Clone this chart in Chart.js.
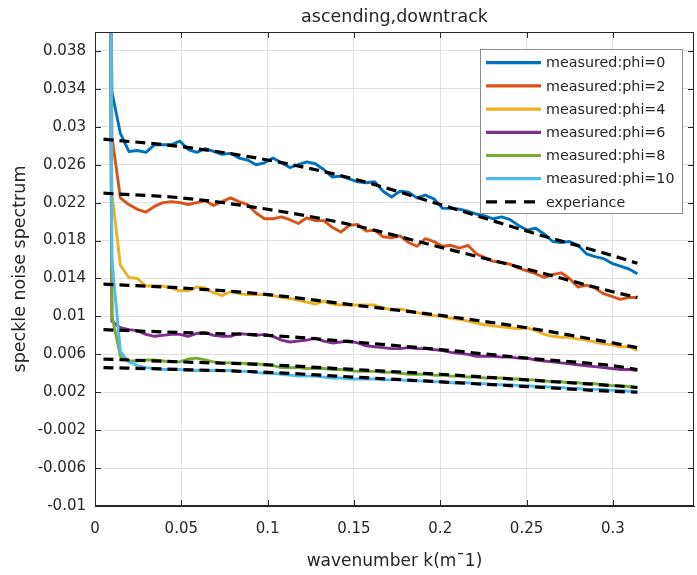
<!DOCTYPE html>
<html>
<head>
<meta charset="utf-8">
<script src="https://cdn.jsdelivr.net/npm/chart.js@4.4.0/dist/chart.umd.min.js"></script>
<style>body{margin:0;background:#fff}</style>
</head>
<body>
<canvas id="c" width="697" height="575"></canvas>
<script>
// wavenumber samples (m^-1)
const kx = [0.0049, 0.0098, 0.0147, 0.0196, 0.0245, 0.0295, 0.0344, 0.0393, 0.0442, 0.0491,
  0.0540, 0.0589, 0.0638, 0.0687, 0.0736, 0.0785, 0.0834, 0.0884, 0.0933, 0.0982,
  0.1031, 0.1080, 0.1129, 0.1178, 0.1227, 0.1276, 0.1325, 0.1374, 0.1424, 0.1473,
  0.1522, 0.1571, 0.1620, 0.1669, 0.1718, 0.1767, 0.1816, 0.1865, 0.1914, 0.1963,
  0.2013, 0.2062, 0.2111, 0.2160, 0.2209, 0.2258, 0.2307, 0.2356, 0.2405, 0.2454,
  0.2503, 0.2553, 0.2602, 0.2651, 0.2700, 0.2749, 0.2798, 0.2847, 0.2896, 0.2945,
  0.2994, 0.3043, 0.3093, 0.3142];

const phi0 = [0.12, 0.0337, 0.0293, 0.0274, 0.0275, 0.0273, 0.0281, 0.0281, 0.0281, 0.0285,
  0.0276, 0.0273, 0.0277, 0.0274, 0.0271, 0.0272, 0.0267, 0.0265, 0.0260, 0.0262,
  0.0267, 0.0262, 0.0257, 0.0260, 0.0263, 0.0261, 0.0255, 0.0247, 0.0248, 0.0245,
  0.0242, 0.0241, 0.0242, 0.0232, 0.0226, 0.0232, 0.0231, 0.0225, 0.0228, 0.0224,
  0.0214, 0.0214, 0.0213, 0.0211, 0.0208, 0.0206, 0.0203, 0.0205, 0.0202, 0.0196,
  0.0191, 0.0193, 0.0187, 0.0179, 0.0178, 0.0179, 0.0175, 0.0166, 0.0163, 0.0161,
  0.0156, 0.0153, 0.0150, 0.0145];
const phi2 = [0.15, 0.029, 0.0225, 0.0218, 0.0213, 0.0210, 0.0216, 0.0220, 0.0221, 0.0220,
  0.0218, 0.0220, 0.0222, 0.0217, 0.0221, 0.0225, 0.0221, 0.0218, 0.0209, 0.0203,
  0.0203, 0.0205, 0.0202, 0.0198, 0.0204, 0.0201, 0.0201, 0.0194, 0.0189, 0.0196,
  0.0197, 0.0190, 0.0191, 0.0184, 0.0183, 0.0185, 0.0178, 0.0174, 0.0182, 0.0179,
  0.0174, 0.0175, 0.0172, 0.0175, 0.0166, 0.0162, 0.0158, 0.0157, 0.0155, 0.0151,
  0.0148, 0.0145, 0.0141, 0.0144, 0.0146, 0.0140, 0.0131, 0.0133, 0.0130, 0.0124,
  0.0121, 0.0118, 0.0120, 0.0120];
const phi4 = [0.2, 0.023, 0.0154, 0.0141, 0.0140, 0.0132, 0.0132, 0.0132, 0.0130, 0.0127,
  0.0127, 0.0131, 0.0130, 0.0125, 0.0122, 0.0126, 0.0124, 0.0123, 0.0123, 0.0123,
  0.0122, 0.0120, 0.0119, 0.0117, 0.0115, 0.0113, 0.0116, 0.0113, 0.0112, 0.0112,
  0.0112, 0.0112, 0.0112, 0.0109, 0.0107, 0.0108, 0.0106, 0.0104, 0.0102, 0.0101,
  0.0100, 0.0098, 0.0097, 0.0095, 0.0093, 0.0091, 0.0090, 0.0089, 0.0088, 0.0087,
  0.0088, 0.0085, 0.0081, 0.0079, 0.0078, 0.0078, 0.0076, 0.0075, 0.0073, 0.0071,
  0.0070, 0.0068, 0.0068, 0.0064];
const phi6 = [0.2, 0.0095, 0.0088, 0.0086, 0.0085, 0.0081, 0.0079, 0.0080, 0.0081, 0.0081,
  0.0079, 0.0082, 0.0083, 0.0080, 0.0079, 0.0079, 0.0082, 0.0081, 0.0080, 0.0081,
  0.0079, 0.0075, 0.0073, 0.0074, 0.0075, 0.0077, 0.0074, 0.0072, 0.0073, 0.0074,
  0.0072, 0.0069, 0.0068, 0.0067, 0.0066, 0.0066, 0.0067, 0.0066, 0.0066, 0.0065,
  0.0064, 0.0062, 0.0061, 0.0060, 0.0058, 0.0058, 0.0058, 0.0057, 0.0057, 0.0056,
  0.0056, 0.0054, 0.0053, 0.0052, 0.0051, 0.0050, 0.0049, 0.0048, 0.0047, 0.0046,
  0.0045, 0.0044, 0.0044, 0.0043];
const phi8 = [0.2, 0.0101, 0.0058, 0.0053, 0.0053, 0.0054, 0.0054, 0.0053, 0.0052, 0.0052,
  0.0055, 0.0056, 0.0054, 0.0052, 0.0051, 0.0051, 0.0051, 0.0050, 0.0050, 0.0049,
  0.0048, 0.0046, 0.0046, 0.0046, 0.0045, 0.0045, 0.0045, 0.0044, 0.0044, 0.0043,
  0.0042, 0.0042, 0.0042, 0.0041, 0.0041, 0.0040, 0.0039, 0.0039, 0.0039, 0.0038,
  0.0038, 0.0037, 0.0037, 0.0036, 0.0036, 0.0035, 0.0035, 0.0035, 0.0034, 0.0034,
  0.0033, 0.0033, 0.0032, 0.0031, 0.0031, 0.0030, 0.0030, 0.0029, 0.0029, 0.0028,
  0.0027, 0.0027, 0.0026, 0.0025];
const phi10 = [0.25, 0.016, 0.0063, 0.0052, 0.0048, 0.0046, 0.0045, 0.0044, 0.0044, 0.0044,
  0.0043, 0.0043, 0.0043, 0.0043, 0.0043, 0.0043, 0.0042, 0.0042, 0.0041, 0.0040,
  0.0040, 0.0039, 0.0038, 0.0037, 0.0037, 0.0037, 0.0036, 0.0035, 0.0035, 0.0034,
  0.0034, 0.0034, 0.0034, 0.0033, 0.0033, 0.0033, 0.0032, 0.0032, 0.0032, 0.0031,
  0.0031, 0.0030, 0.0030, 0.0030, 0.0029, 0.0029, 0.0028, 0.0028, 0.0028, 0.0027,
  0.0027, 0.0026, 0.0026, 0.0025, 0.0025, 0.0024, 0.0024, 0.0023, 0.0023, 0.0023,
  0.0022, 0.0022, 0.0021, 0.0021];

// "experiance" curves, read at a few wavenumbers
const fitK = [0.0049, 0.05, 0.1, 0.15, 0.2, 0.25, 0.3, 0.3142];
const fit0 = [0.0287, 0.0279, 0.0265, 0.0245, 0.0218, 0.0190, 0.0164, 0.0156];
const fit2 = [0.0230, 0.0225, 0.0213, 0.0196, 0.0173, 0.0150, 0.0126, 0.0120];
const fit4 = [0.0134, 0.0130, 0.0123, 0.0112, 0.0101, 0.0088, 0.0072, 0.0067];
const fit6 = [0.0086, 0.0083, 0.0080, 0.0073, 0.0065, 0.0056, 0.0048, 0.0044];
const fit8 = [0.0055, 0.0052, 0.0049, 0.0044, 0.0039, 0.0033, 0.0027, 0.0025];
const fit10 = [0.0046, 0.0044, 0.0041, 0.0036, 0.0031, 0.0026, 0.0021, 0.0020];

const labels = ['measured:phi=0', 'measured:phi=2', 'measured:phi=4', 'measured:phi=6',
  'measured:phi=8', 'measured:phi=10', 'experiance'];
const colors = ['#0072BD', '#D95319', '#EDB120', '#7E2F8E', '#77AC30', '#4DBEEE'];

const xTicks = [0, 0.05, 0.1, 0.15, 0.2, 0.25, 0.3];
const yTicks = [-0.01, -0.006, -0.002, 0.002, 0.006, 0.01, 0.014, 0.018, 0.022, 0.026, 0.03, 0.034, 0.038];
const yTickLabels = ['-0.01', '-0.006', '-0.002', '0.002', '0.006', '0.01', '0.014', '0.018',
  '0.022', '0.026', '0.03', '0.034', '0.038'];

const FONT = '"DejaVu Sans", sans-serif';
const INK = '#262626';

const measured = [phi0, phi2, phi4, phi6, phi8, phi10];
const fits = [fit0, fit2, fit4, fit6, fit8, fit10];

const datasets = [];
measured.forEach((ys, i) => {
  datasets.push({
    label: labels[i],
    data: kx.map((x, j) => ({ x: x, y: ys[j] })),
    borderColor: colors[i],
    borderWidth: 2.9,
    order: 20 - i
  });
});
fits.forEach((ys) => {
  datasets.push({
    label: 'experiance',
    data: fitK.map((x, j) => ({ x: x, y: ys[j] })),
    borderColor: '#000',
    borderWidth: 3.2,
    borderDash: [10, 6],
    cubicInterpolationMode: 'monotone',
    order: 0
  });
});

const decor = {
  id: 'decor',
  afterDraw(chart) {
    const ctx = chart.ctx;
    const a = chart.chartArea;
    const xs = chart.scales.x, ys = chart.scales.y;
    ctx.save();
    // box
    ctx.strokeStyle = INK;
    ctx.lineWidth = 1;
    ctx.strokeRect(a.left + 0.5, a.top + 0.5, a.right - a.left - 1, a.bottom - a.top - 1);
    // inward ticks
    ctx.beginPath();
    xTicks.forEach(v => {
      const px = Math.round(xs.getPixelForValue(v)) + 0.5;
      ctx.moveTo(px, a.bottom); ctx.lineTo(px, a.bottom - 6);
      ctx.moveTo(px, a.top); ctx.lineTo(px, a.top + 6);
    });
    yTicks.forEach(v => {
      const py = Math.round(ys.getPixelForValue(v)) + 0.5;
      ctx.moveTo(a.left, py); ctx.lineTo(a.left + 6, py);
      ctx.moveTo(a.right, py); ctx.lineTo(a.right - 6, py);
    });
    ctx.stroke();

    // title and axis labels
    ctx.fillStyle = INK;
    ctx.textAlign = 'center';
    ctx.textBaseline = 'alphabetic';
    ctx.font = '17.5px ' + FONT;
    ctx.fillText('ascending,downtrack', (a.left + a.right) / 2, 21.5);
    ctx.font = '17px ' + FONT;
    ctx.fillText('wavenumber k(m\u00AF1)', (a.left + a.right) / 2, 566);
    ctx.save();
    ctx.translate(20, (a.top + a.bottom) / 2);
    ctx.rotate(-Math.PI / 2);
    ctx.textBaseline = 'middle';
    ctx.font = '17.5px ' + FONT;
    ctx.fillText('speckle noise spectrum', 0, 0);
    ctx.restore();

    // legend
    const lx = 480, ly = 49, lw = 202, lh = 164;
    ctx.fillStyle = '#fff';
    ctx.fillRect(lx, ly, lw, lh);
    ctx.strokeStyle = '#8c8c8c';
    ctx.strokeRect(lx + 0.5, ly + 0.5, lw, lh);
    ctx.font = '14.3px ' + FONT;
    ctx.textAlign = 'left';
    ctx.textBaseline = 'middle';
    labels.forEach((t, i) => {
      const yy = 62.7 + i * 23.2;
      ctx.beginPath();
      ctx.lineWidth = 3.2;
      if (i < 6) {
        ctx.strokeStyle = colors[i];
        ctx.setLineDash([]);
      } else {
        ctx.strokeStyle = '#000';
        ctx.setLineDash([11, 8]);
      }
      ctx.moveTo(486, yy);
      ctx.lineTo(541, yy);
      ctx.stroke();
      ctx.setLineDash([]);
      ctx.fillStyle = INK;
      ctx.fillText(t, 546, yy + 1);
    });
    ctx.restore();
  }
};

Chart.defaults.font.family = FONT;
Chart.defaults.color = INK;

new Chart(document.getElementById('c'), {
  type: 'line',
  data: { datasets: datasets },
  options: {
    responsive: false,
    devicePixelRatio: 1,
    animation: false,
    layout: { padding: { top: 32, right: 3, left: 0, bottom: 0 } },
    elements: {
      point: { radius: 0 },
      line: { tension: 0, borderCapStyle: 'butt', borderJoinStyle: 'round' }
    },
    plugins: {
      legend: { display: false },
      tooltip: { enabled: false }
    },
    scales: {
      x: {
        type: 'linear',
        min: 0,
        max: 0.347,
        afterBuildTicks: s => { s.ticks = xTicks.map(v => ({ value: v })); },
        afterFit: s => { s.height = 69; },
        grid: { color: '#e0e0e0', drawTicks: false },
        border: { color: INK },
        ticks: {
          autoSkip: false,
          maxRotation: 0,
          padding: 14,
          font: { size: 15 },
          color: INK,
          callback: v => String(v)
        }
      },
      y: {
        type: 'linear',
        min: -0.01,
        max: 0.04,
        afterBuildTicks: s => { s.ticks = yTicks.map(v => ({ value: v })); },
        afterFit: s => { s.width = 95; },
        grid: { color: '#e0e0e0', drawTicks: false },
        border: { color: INK },
        ticks: {
          autoSkip: false,
          padding: 9,
          font: { size: 15 },
          color: INK,
          callback: (v, i) => yTickLabels[i]
        }
      }
    }
  },
  plugins: [decor]
});
</script>
</body>
</html>
